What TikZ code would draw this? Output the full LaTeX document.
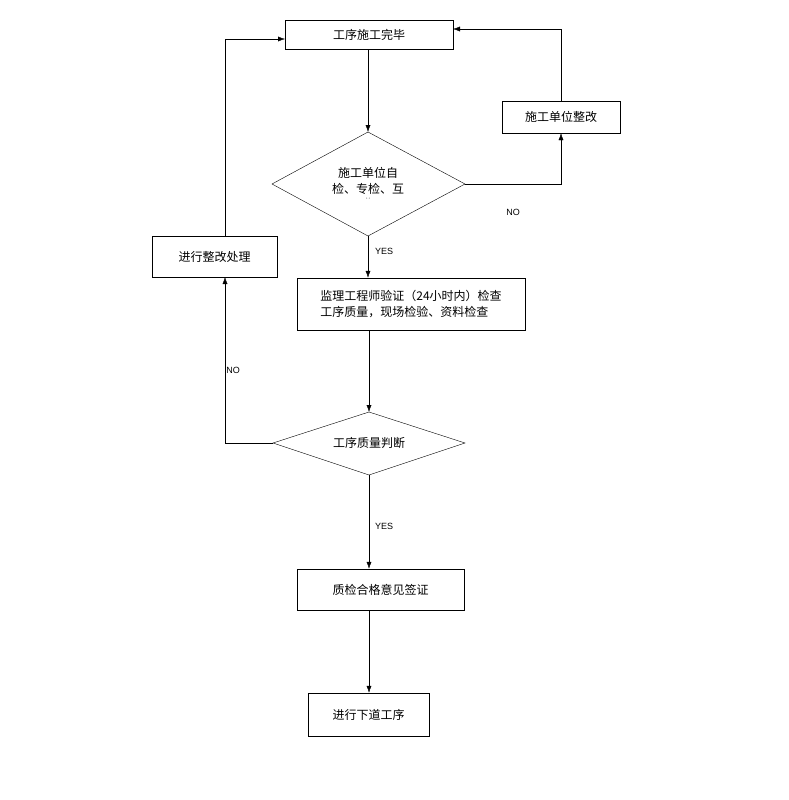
\documentclass[tikz,border=0pt]{standalone}
\usepackage{fontspec}
\setmainfont{Liberation Sans}
\newfontfamily\cjk{Noto Sans CJK SC}
\usetikzlibrary{shapes.geometric,arrows.meta}
\tikzset{
  box/.style={draw, rectangle, minimum height=#1, font=\cjk\fontsize{12}{16}\selectfont, inner sep=2pt},
  dia/.style={draw, diamond, font=\cjk\fontsize{12}{16}\selectfont, inner sep=0pt},
  arr/.style={-{Latex[length=7pt,width=5pt]}},
  lbl/.style={font=\fontsize{9}{10}\selectfont}
}
\begin{document}
\begin{tikzpicture}[x=1pt,y=-1pt]
  \useasboundingbox (0,0) rectangle (789,800);

  \node[box=29pt, minimum width=168pt] (done) at (369,34.5) {工序施工完毕};
  \node[box=32pt, minimum width=118pt] (fix) at (561,117) {施工单位整改};
  \draw (368,132) coordinate (d1t) -- (465,184) coordinate (d1r) -- (368,236) coordinate (d1b) -- (272,184) -- cycle;
  \node[font=\cjk\fontsize{12}{16}\selectfont, align=center] (d1) at (368,184) {施工单位自\\检、专检、互\\[-9pt]{\tiny ˙˙}};
  \node[box=41pt, minimum width=125pt] (redo) at (214.5,256.5) {进行整改处理};
  \node[box=52pt, minimum width=228pt, align=left] (check) at (411,304) {监理工程师验证（24小时内）检查\\工序质量，现场检验、资料检查};
  \draw (369,412) coordinate (d2t) -- (465,443) -- (369,475) coordinate (d2b) -- (273,443) coordinate (d2l) -- cycle;
  \node[font=\cjk\fontsize{12}{16}\selectfont] (d2) at (369,443) {工序质量判断};
  \node[box=41pt, minimum width=167pt] (sign) at (380.5,589.5) {质检合格意见签证};
  \node[box=43pt, minimum width=121pt] (next) at (368.5,714.5) {进行下道工序};

  \draw[arr] (done.south -| d1t) -- (d1t);
  \draw[arr] (d1r) -| (fix.south);
  \draw[arr] (fix.north) |- (453,29);
  \draw[arr] (d1b) -- (d1b |- check.north);
  \draw[arr] (check.south -| d2t) -- (d2t);
  \draw[arr] (d2l) -| (225,277);
  \draw[arr] (225,236) |- (285,39);
  \draw[arr] (d2b) -- (d2b |- sign.north);
  \draw[arr] (sign.south -| d2b) -- (d2b |- next.north);

  \node[lbl] at (513,212) {NO};
  \node[lbl] at (384,251) {YES};
  \node[lbl] at (233,370) {NO};
  \node[lbl] at (384,526) {YES};
\end{tikzpicture}
\end{document}
